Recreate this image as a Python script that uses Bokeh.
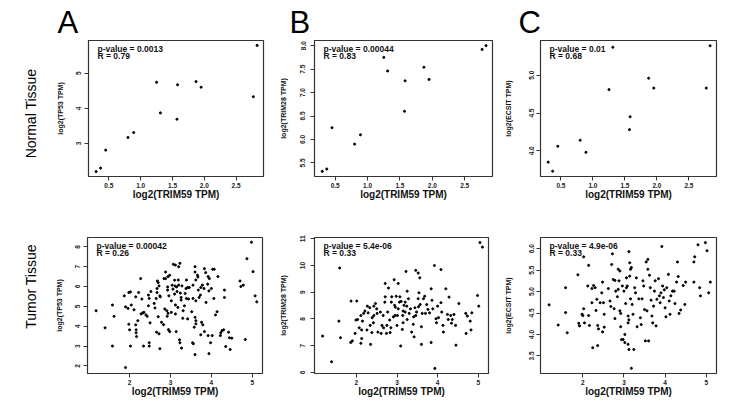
import math
from bokeh.plotting import figure
from bokeh.layouts import row, column
from bokeh.models import Range1d, FixedTicker, NumeralTickFormatter, Label
from bokeh.embed import file_html
from bokeh.resources import INLINE
from bokeh.core.properties import value

FONT = "Liberation Sans"
INK = "#333333"

# ---------------- Normal tissue (13 samples) ----------------
normal_trim59 = [0.30, 0.37, 0.45, 0.80, 0.89, 1.25, 1.31, 1.57, 1.58, 1.87, 1.95, 2.77, 2.83]
normal_tp53 = [2.20, 2.30, 2.81, 3.17, 3.31, 4.74, 3.87, 3.69, 4.67, 4.76, 4.60, 4.33, 5.79]
normal_trim28 = [5.32, 5.37, 6.25, 5.90, 6.10, 7.75, 7.46, 6.60, 7.25, 7.54, 7.28, 7.92, 8.00]
normal_ecsit = [3.85, 3.73, 4.06, 4.14, 3.98, 4.81, 5.37, 4.28, 4.45, 4.96, 4.83, 4.83, 5.39]

# ---------------- Tumor tissue: TRIM59 vs TP53 ----------------
tumor_a_trim59 = [
    1.18, 1.40, 1.58, 1.62, 1.58, 1.87, 1.90, 1.96, 1.98, 2.02, 2.04, 1.98, 2.00, 2.02, 1.90,
    2.11, 2.15, 2.15, 2.16, 2.16, 2.17, 2.22, 2.20, 2.27, 2.30, 2.28, 2.32, 2.35, 2.34, 2.40,
    2.43, 2.46, 2.48, 2.46, 2.48, 2.48, 2.50, 2.52, 2.60, 2.62, 2.65, 2.67, 2.67, 2.68, 2.70,
    2.70, 2.66, 2.72, 2.74, 2.72, 2.74, 2.75, 2.78, 2.83, 2.84, 2.88, 2.88, 2.86, 2.91, 2.94,
    2.92, 2.93, 2.93, 2.94, 2.96, 2.98, 2.95, 2.98, 3.02, 3.04, 3.02, 3.06, 3.07, 3.12, 3.10,
    3.11, 3.10, 3.12, 3.12, 3.14, 3.15, 3.16, 3.18, 3.19, 3.20, 3.20, 3.23, 3.22, 3.23, 3.27,
    3.24, 3.26, 3.26, 3.28, 3.30, 3.31, 3.34, 3.36, 3.38, 3.39, 3.39, 3.42, 3.42, 3.44, 3.46,
    3.52, 3.54, 3.56, 3.55, 3.55, 3.60, 3.60, 3.62, 3.62, 3.60, 3.62, 3.62, 3.58, 3.60, 3.66,
    3.67, 3.68, 3.70, 3.73, 3.74, 3.74, 3.78, 3.76, 3.79, 3.83, 3.86, 3.82, 3.83, 3.87, 3.92,
    3.95, 3.91, 3.94, 3.92, 3.94, 3.98, 4.00, 4.02, 4.03, 4.07, 4.06, 4.10, 4.14, 4.16, 4.23,
    4.22, 4.26, 4.30, 4.32, 4.32, 4.35, 4.42, 4.46, 4.50, 4.44, 4.70, 4.72, 4.78, 4.83, 4.87,
    4.98, 5.02, 5.07, 5.11,
]
tumor_a_tp53 = [
    4.78, 3.92, 5.07, 4.50, 3.00, 5.53, 4.98, 4.90, 5.70, 5.73, 5.07, 4.10, 3.82, 3.00, 1.92,
    4.83, 5.48, 4.07, 3.82, 3.67, 3.48, 5.70, 4.28, 6.40, 5.37, 4.62, 4.67, 4.70, 3.00, 4.57,
    4.50, 5.57, 5.40, 5.03, 3.17, 3.00, 4.17, 5.75, 5.15, 4.92, 5.40, 5.90, 5.70, 6.28, 6.20,
    4.48, 3.70, 3.62, 2.87, 6.03, 5.53, 5.48, 4.20, 4.08, 6.40, 6.40, 6.73, 4.87, 4.78, 4.65,
    4.50, 5.98, 5.82, 6.50, 5.53, 6.57, 3.83, 3.73, 5.28, 6.07, 4.70, 5.87, 7.12, 7.08, 6.32,
    6.03, 5.62, 5.07, 4.62, 3.73, 5.98, 5.75, 4.95, 6.33, 6.07, 7.00, 7.17, 3.32, 3.17, 2.90,
    5.67, 5.45, 5.32, 6.03, 4.40, 4.78, 5.03, 5.65, 5.90, 6.33, 5.40, 5.95, 4.37, 5.37, 5.95,
    4.73, 3.17, 3.12, 5.40, 6.07, 7.00, 6.73, 6.33, 5.28, 4.45, 4.28, 4.12, 3.95, 2.57, 6.57,
    6.48, 5.82, 5.45, 5.57, 3.57, 5.95, 6.07, 4.20, 4.07, 6.90, 6.70, 5.90, 3.73, 5.20, 6.50,
    6.40, 6.12, 5.78, 3.53, 2.62, 3.17, 5.90, 3.53, 6.87, 6.87, 5.40, 4.57, 4.73, 6.50, 3.67,
    3.53, 3.78, 3.82, 5.82, 5.45, 2.98, 3.70, 2.83, 3.40, 3.42, 6.28, 6.00, 6.07, 3.33, 7.40,
    8.23, 6.75, 5.53, 5.23,
]

# ---------------- Tumor tissue: TRIM59 vs TRIM28 ----------------
tumor_b_trim59 = [
    5.04, 5.10, 4.98, 5.01, 4.52, 4.69, 4.73, 4.84, 4.80, 4.82, 4.70, 4.45, 4.44, 4.40, 4.36,
    4.34, 4.32, 4.26, 4.24, 4.20, 4.28, 4.13, 4.14, 4.10, 4.08, 4.08, 3.92, 3.93, 3.96, 3.97,
    4.00, 4.02, 3.80, 3.84, 3.86, 3.84, 3.88, 3.76, 3.73, 3.68, 3.65, 3.70, 3.62, 3.60, 3.60,
    3.57, 3.53, 3.54, 3.56, 3.52, 3.46, 3.52, 3.48, 3.46, 3.44, 3.41, 3.40, 3.42, 3.36, 3.33,
    3.30, 3.28, 3.25, 3.25, 3.22, 3.24, 3.20, 3.17, 3.15, 3.20, 3.14, 3.15, 3.13, 3.09, 3.07,
    3.06, 3.10, 3.03, 3.03, 3.01, 3.00, 2.98, 2.95, 2.94, 2.96, 2.93, 2.91, 2.87, 2.86, 2.85,
    2.83, 2.82, 2.79, 2.77, 2.75, 2.74, 2.71, 2.71, 2.70, 2.67, 2.66, 2.63, 2.61, 2.59, 2.53,
    2.51, 2.50, 2.47, 2.43, 2.43, 2.42, 2.39, 2.38, 2.35, 2.34, 2.33, 2.29, 2.27, 2.26, 2.21,
    2.18, 2.15, 2.13, 2.13, 2.11, 2.11, 2.07, 2.03, 1.99, 2.01, 1.97, 1.90, 1.87, 1.86, 1.59,
    1.57, 1.61, 1.39, 1.17,
]
tumor_b_trim28 = [
    10.86, 10.69, 8.88, 8.48, 8.58, 8.21, 8.11, 8.23, 7.92, 7.59, 7.46, 7.02, 7.76, 8.17, 7.98,
    7.84, 8.13, 7.98, 8.17, 9.13, 8.82, 7.76, 7.51, 8.26, 9.85, 8.61, 10.00, 6.15, 8.01, 7.86,
    8.48, 8.05, 8.23, 7.12, 8.70, 9.13, 8.38, 8.36, 8.54, 8.85, 8.76, 8.21, 8.21, 7.05, 7.71,
    8.54, 8.46, 8.98, 9.54, 9.72, 9.82, 8.76, 8.26, 8.13, 8.42, 8.08, 7.80, 7.33, 7.51, 8.38,
    8.21, 8.76, 9.04, 7.98, 9.78, 8.48, 8.63, 8.51, 8.30, 8.26, 8.13, 7.86, 7.61, 6.99, 8.83,
    8.63, 8.66, 9.33, 8.38, 8.13, 7.76, 8.85, 8.13, 8.51, 8.44, 9.47, 8.08, 8.83, 8.63, 7.67,
    7.49, 7.96, 9.16, 8.26, 7.76, 7.46, 9.33, 8.83, 8.63, 7.67, 8.13, 7.76, 7.46, 8.26, 7.51,
    8.21, 8.38, 8.58, 8.48, 8.13, 7.86, 8.05, 7.49, 7.05, 7.76, 8.42, 8.23, 8.48, 7.59, 8.30,
    8.21, 7.92, 7.59, 7.27, 7.09, 8.13, 7.67, 7.98, 7.96, 8.67, 7.46, 7.18, 8.67, 7.12, 9.91,
    7.92, 7.30, 6.40, 7.36,
]

# ---------------- Tumor tissue: TRIM59 vs ECSIT ----------------
tumor_c_trim59 = [
    1.18, 1.40, 1.58, 1.58, 1.62, 1.88, 1.90, 1.92, 1.98, 2.00, 2.02, 2.02, 2.04, 2.12, 2.14,
    2.14, 2.16, 2.22, 2.22, 2.24, 2.26, 2.30, 2.32, 2.34, 2.36, 2.36, 2.38, 2.42, 2.46, 2.48,
    2.50, 2.52, 2.52, 2.48, 2.62, 2.66, 2.68, 2.70, 2.72, 2.74, 2.78, 2.76, 2.78, 2.80, 2.84,
    2.86, 2.90, 2.88, 2.86, 2.90, 2.92, 2.92, 2.94, 2.98, 2.96, 3.00, 3.02, 3.02, 3.04, 3.06,
    3.06, 3.08, 3.10, 3.12, 3.12, 3.10, 3.10, 3.12, 3.14, 3.14, 3.16, 3.18, 3.16, 3.18, 3.20,
    3.22, 3.24, 3.26, 3.28, 3.30, 3.32, 3.36, 3.40, 3.42, 3.44, 3.46, 3.48, 3.50, 3.52, 3.54,
    3.56, 3.58, 3.58, 3.60, 3.62, 3.64, 3.66, 3.68, 3.70, 3.72, 3.74, 3.76, 3.78, 3.80, 3.84,
    3.86, 3.88, 3.90, 3.92, 3.94, 3.96, 3.98, 4.00, 4.02, 4.04, 4.08, 4.10, 4.12, 4.14, 4.18,
    4.22, 4.24, 4.28, 4.30, 4.32, 4.34, 4.38, 4.44, 4.48, 4.50, 4.70, 4.72, 4.70, 4.80, 4.84,
    4.86, 4.98, 5.02, 5.06, 5.10,
]
tumor_c_ecsit = [
    4.69, 4.22, 5.09, 4.51, 4.04, 5.39, 4.26, 4.20, 4.47, 4.44, 5.81, 4.60, 4.27, 5.13, 5.61,
    4.44, 4.21, 5.07, 4.74, 3.69, 5.14, 5.09, 4.56, 4.82, 4.21, 3.74, 4.13, 4.74, 4.97, 5.22,
    4.74, 4.47, 4.17, 4.06, 5.07, 4.78, 4.65, 5.63, 5.88, 5.28, 5.26, 4.60, 4.37, 5.01, 4.88,
    5.52, 5.48, 5.25, 5.05, 4.55, 4.49, 4.18, 3.88, 3.88, 5.13, 5.01, 4.00, 3.81, 4.72, 5.09,
    5.32, 5.13, 4.43, 4.34, 5.93, 4.27, 3.77, 3.65, 5.67, 5.36, 5.52, 5.56, 4.83, 3.21, 4.70,
    4.47, 3.65, 5.09, 4.97, 5.32, 4.18, 4.83, 4.39, 4.23, 4.83, 5.25, 5.13, 4.58, 3.85, 5.69,
    4.55, 5.52, 5.75, 3.85, 5.38, 5.09, 4.80, 4.43, 4.27, 4.66, 5.01, 5.25, 4.20, 4.82, 5.30,
    4.90, 4.74, 4.97, 6.05, 5.13, 4.86, 5.04, 4.62, 4.41, 5.09, 5.40, 4.78, 4.47, 4.90, 5.01,
    5.01, 4.72, 5.22, 5.69, 5.35, 4.49, 4.57, 5.14, 4.70, 5.22, 5.69, 5.81, 5.22, 6.09, 5.09,
    4.90, 6.14, 5.95, 4.97, 5.22,
]

# ---------------- Axis ticks and statistics ----------------
normal_xticks = [0.5, 1.0, 1.5, 2.0, 2.5]
tumor_xticks = [2, 3, 4, 5]
normal_tp53_ticks = [3, 4, 5]
normal_trim28_ticks = [5.5, 6.0, 6.5, 7.0, 7.5, 8.0]
normal_ecsit_ticks = [4.0, 4.5, 5.0]
tumor_tp53_ticks = [2, 3, 4, 5, 6, 7, 8]
tumor_trim28_ticks = [6, 7, 8, 9, 10, 11]
tumor_ecsit_ticks = [3.5, 4.0, 4.5, 5.0, 5.5, 6.0]

p_values = ["0.0013", "0.00044", "0.01", "0.00042", "5.4e-06", "4.9e-06"]
r_values = ["0.79", "0.83", "0.68", "0.26", "0.33", "0.33"]

x_title = "log2(TRIM59 TPM)"
y_titles = ["log2(TP53 TPM)", "log2(TRIM28 TPM)", "log2(ECSIT TPM)"]
panel_letters = ["A", "B", "C"]
row_titles = ["Normal Tissue", "Tumor Tissue"]


def scatter_panel(x, y, xr, yr, xticks, yticks, xfmt, yfmt, ytitle, pval, rval,
                  width, height, left, right, top, bottom, ytick_gap, ytitle_gap):
    p = figure(width=width, height=height, x_range=Range1d(*xr), y_range=Range1d(*yr),
               output_backend="svg", toolbar_location=None,
               min_border_left=left, min_border_right=right,
               min_border_top=top, min_border_bottom=bottom)
    p.grid.visible = False
    p.background_fill_color = "white"
    p.border_fill_color = "white"
    p.outline_line_color = INK
    p.outline_line_width = 1.2
    p.scatter(x, y, size=2.1, marker="circle", color="black")

    p.axis.axis_line_color = None
    p.axis.minor_tick_line_color = None
    p.axis.major_tick_line_color = INK
    p.axis.major_tick_out = 4
    p.axis.major_tick_in = 0
    p.axis.major_label_text_font = FONT
    p.axis.major_label_text_font_size = "6.5px"
    p.axis.major_label_text_font_style = "bold"
    p.axis.major_label_text_color = "#222222"
    p.axis.axis_label_text_font = FONT
    p.axis.axis_label_text_font_style = "bold"
    p.axis.axis_label_text_color = "#111111"

    p.xaxis.ticker = FixedTicker(ticks=xticks)
    p.xaxis.formatter = NumeralTickFormatter(format=xfmt)
    p.xaxis.axis_label = x_title
    p.xaxis.axis_label_text_font_size = "10px"
    p.xaxis.major_label_standoff = 2
    p.xaxis.axis_label_standoff = -2

    p.yaxis.ticker = FixedTicker(ticks=yticks)
    p.yaxis.formatter = NumeralTickFormatter(format=yfmt)
    p.yaxis.axis_label = ytitle
    p.yaxis.axis_label_text_font_size = "7px"
    p.yaxis.major_label_orientation = "vertical"
    p.yaxis.major_label_standoff = ytick_gap
    p.yaxis.axis_label_standoff = ytitle_gap

    fw = width - left - right
    fh = height - top - bottom
    lx = xr[0] + (xr[1] - xr[0]) * 9 / fw
    y1 = yr[1] - (yr[1] - yr[0]) * 8 / fh
    y2 = yr[1] - (yr[1] - yr[0]) * 15.5 / fh
    for yy, txt in ((y1, "p-value = " + pval), (y2, "R = " + rval)):
        p.add_layout(Label(x=lx, y=yy, text=txt, text_font=FONT, text_font_size="8.5px",
                           text_font_style="bold", text_baseline="middle", text_color="#111111"))
    return p


TOP_H, BOT_H = 170, 208

aT = scatter_panel(normal_trim59, normal_tp53, (0.18, 2.93), (2.06, 5.93), normal_xticks,
                   normal_tp53_ticks, "0.0", "0", y_titles[0], p_values[0], r_values[0],
                   224, TOP_H, 40, 9, 0, 34, 3, 10)
bT = scatter_panel(normal_trim59, normal_trim28, (0.18, 2.93), (5.21, 8.11), normal_xticks,
                   normal_trim28_ticks, "0.0", "0.0", y_titles[1], p_values[1], r_values[1],
                   228, TOP_H, 42, 8, 0, 34, 5, 11)
cT = scatter_panel(normal_trim59, normal_ecsit, (0.18, 2.93), (3.66, 5.46), normal_xticks,
                   normal_ecsit_ticks, "0.0", "0.0", y_titles[2], p_values[2], r_values[2],
                   250, TOP_H, 40, 34, 0, 34, 2, 15)

aB = scatter_panel(tumor_a_trim59, tumor_a_tp53, (0.97, 5.25), (1.62, 8.47), tumor_xticks,
                   tumor_tp53_ticks, "0", "0", y_titles[0], p_values[3], r_values[3],
                   224, BOT_H, 39, 10, 27, 45, 3, 10)
bB = scatter_panel(tumor_b_trim59, tumor_b_trim28, (0.97, 5.25), (5.96, 11.05), tumor_xticks,
                   tumor_trim28_ticks, "0", "0", y_titles[1], p_values[4], r_values[4],
                   228, BOT_H, 42, 12, 27, 45, 5, 11)
cB = scatter_panel(tumor_c_trim59, tumor_c_ecsit, (0.97, 5.25), (3.09, 6.26), tumor_xticks,
                   tumor_ecsit_ticks, "0", "0.0", y_titles[2], p_values[5], r_values[5],
                   250, BOT_H, 40, 34, 27, 45, 2, 15)


def blank(width, height, xr, yr):
    f = figure(width=width, height=height, x_range=Range1d(*xr), y_range=Range1d(*yr),
               output_backend="svg", toolbar_location=None, min_border=0)
    f.axis.visible = False
    f.grid.visible = False
    f.outline_line_color = None
    f.background_fill_color = "white"
    f.border_fill_color = "white"
    return f


# Panel letters across the top (y measured upward from the strip's bottom)
header = blank(750, 40, (0, 750), (0, 40))
header.text(x=[57, 289, 518], y=[18, 18, 18], text=panel_letters, text_font=value(FONT),
            text_font_size="31px", text_baseline="middle", text_align="left", color="black")

# Row titles down the left side
side = blank(48, 378, (0, 48), (418, 40))
side.text(x=[30, 30], y=[113, 286], text=row_titles, angle=math.pi / 2, text_font=value(FONT),
          text_font_size="14px", text_align="center", text_baseline="middle", color="black")

layout = column(header, row(side, column(row(aT, bT, cT), row(aB, bB, cB))))

with open("out.html", "w") as fh:
    fh.write(file_html(layout, INLINE))
